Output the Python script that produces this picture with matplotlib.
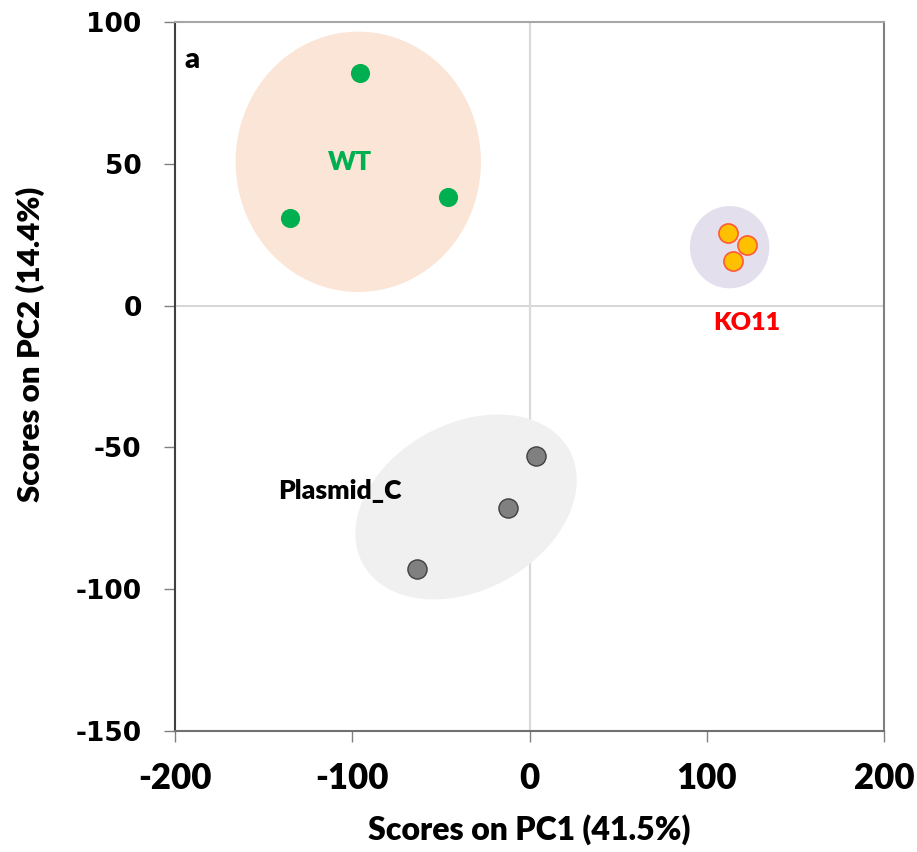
import numpy as np
import matplotlib.pyplot as plt

plt.rcParams['axes.unicode_minus'] = False

# PCA scores
wt_x = [-95.5, -135.1, -46.2]
wt_y = [81.9, 31.0, 38.4]
ko_x = [112.2, 122.9, 115.0]
ko_y = [25.5, 21.4, 15.7]
pl_x = [3.5, -11.9, -63.5]
pl_y = [-53.0, -71.4, -92.8]

# group hulls: centre x, centre y, half width, half height (data units), tilt in degrees (screen)
wt_hull = (-96.6, 50.7, 69.2, 45.9, 0)
ko_hull = (112.9, 20.6, 22.4, 14.5, 0)
pl_hull = (-35.8, -71.0, 66.5, 29.3, 29)

x_ticks = [-200, -100, 0, 100, 200]
y_ticks = [-150, -100, -50, 0, 50, 100]

fig = plt.figure(figsize=(9.17, 8.52), dpi=100)
ax = fig.add_axes([175 / 917, 1 - 731 / 852, 709 / 917, 709 / 852])
ax.set_xlim(-200, 200)
ax.set_ylim(-150, 100)

# pixels per data unit, used to draw hulls tilted on screen
sx = 709 / 400
sy = 709 / 250


def hull(cx, cy, rx, ry, tilt, color):
    t = np.linspace(0, 2 * np.pi, 200)
    a = rx * sx
    b = ry * sy
    th = np.radians(tilt)
    px = a * np.cos(t) * np.cos(th) - b * np.sin(t) * np.sin(th)
    py = a * np.cos(t) * np.sin(th) + b * np.sin(t) * np.cos(th)
    ax.fill(cx + px / sx, cy + py / sy, color=color, lw=0, zorder=1)


hull(*wt_hull, '#FBE5D6')
hull(*ko_hull, '#E4DFEC')
hull(*pl_hull, '#F0F0F0')

ax.axhline(0, color='#D0D0D0', lw=1.2, zorder=0.5)
ax.axvline(0, color='#DADADA', lw=1.6, zorder=0.5)

ax.scatter(wt_x, wt_y, s=190, color='#00B050', lw=0, zorder=3)
ax.scatter(ko_x, ko_y, s=190, color='#FFC000', edgecolor='#FF5A36', lw=1.2, zorder=3)
ax.scatter(pl_x, pl_y, s=190, color='#808080', edgecolor='#404040', lw=1.0, zorder=3)

lab_font = 'Lato'
ax.text(-101.3, 50.5, 'WT', color='#00B050', fontsize=19, fontweight='heavy',
        family=lab_font, ha='center', va='center')
ax.text(122.7, -6.1, 'KO11', color='#FF0000', fontsize=18, fontweight='heavy',
        family=lab_font, ha='center', va='center')
ax.text(-107.2, -65.4, 'Plasmid_C', color='black', fontsize=19, fontweight='heavy',
        family=lab_font, ha='center', va='center')
ax.text(-190.2, 86.6, 'a', color='black', fontsize=21, fontweight='heavy',
        family=lab_font, ha='center', va='center')

ax.spines['left'].set_color('#404040')
ax.spines['bottom'].set_color('#707070')
ax.spines['top'].set_color('#A6A6A6')
ax.spines['right'].set_color('#808080')
for s in ax.spines.values():
    s.set_linewidth(1.5)

ax.set_xticks(x_ticks)
ax.set_yticks(y_ticks)
ax.tick_params(axis='x', direction='out', length=8, width=1, color='#808080', pad=14)
ax.tick_params(axis='y', direction='out', length=8, width=1, color='#808080', pad=16)
for lbl in ax.get_xticklabels():
    lbl.set_family(lab_font)
    lbl.set_fontweight('heavy')
    lbl.set_fontsize(25)
for lbl in ax.get_yticklabels():
    lbl.set_family('DejaVu Sans')
    lbl.set_fontweight('bold')
    lbl.set_fontsize(19)

ax.set_xlabel('Scores on PC1 (41.5%)', family=lab_font, fontweight='heavy', fontsize=23, labelpad=14)
ax.set_ylabel('Scores on PC2 (14.4%)', family=lab_font, fontweight='heavy', fontsize=22.5)
ax.yaxis.set_label_coords(-0.1834, 0.546)

fig.savefig('out.png', dpi=100)
